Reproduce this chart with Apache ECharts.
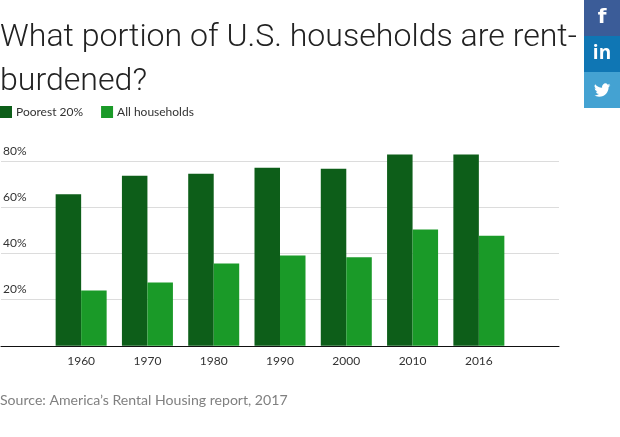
<!DOCTYPE html>
<html><head><meta charset="utf-8">
<style>html,body{margin:0;padding:0;background:#fff}#c{width:620px;height:437px}</style>
<script src="https://cdn.jsdelivr.net/npm/echarts@6/dist/echarts.min.js"></script>
</head><body><div id="c"></div>
<script>
const categories = ['1960','1970','1980','1990','2000','2010','2016'];
const poorest = [65.5,73.5,74.4,77,76.5,82.7,82.7];
const allHouseholds = [23.9,27.4,35.6,39,38.3,50.3,47.6];
const yTicks = [20,40,60,80];
const font = 'Lato, "Open Sans", sans-serif';
echarts.graphic.registerShape('bird', echarts.graphic.extendPath(
  'M24 4.6a10 10 0 0 1-2.8.8 4.900 4.900 0 0 0 2.200-2.700 9.800 9.800 0 0 1-3.100 1.200 4.900 4.900 0 0 0-8.400 4.500A14 14 0 0 1 1.700 3.200a4.900 4.900 0 0 0 1.500 6.600 4.900 4.900 0 0 1-2.200-.6v.1a4.900 4.900 0 0 0 3.900 4.800 4.900 4.900 0 0 1-2.200.1 4.900 4.900 0 0 0 4.600 3.400A9.900 9.900 0 0 1 0 19.600 14 14 0 0 0 7.500 21.800c9 0 14-7.500 14-14v-.6A10 10 0 0 0 24 4.600z', {}));
const chart = echarts.init(document.getElementById('c'));
const H = 231.25, T = 345.75 - H;
chart.setOption({
  animation:false,
  title:[
    {text:'What portion of U.S. households are rent-\nburdened?',left:0,top:16,padding:0,
     textStyle:{fontFamily:'Roboto, Lato, sans-serif',fontWeight:300,fontSize:32.1,lineHeight:44,color:'#222'}},
    {text:'Source: America\u2019s Rental Housing report, 2017',left:0,top:393,padding:0,
     textStyle:{fontFamily:font,fontWeight:400,fontSize:14.1,color:'#808080'}}
  ],
  legend:{left:0,top:106,padding:0,itemWidth:12,itemHeight:12,itemGap:18,icon:'rect',
    textStyle:{fontFamily:font,fontSize:12,color:'#333',padding:[0,0,0,-1]},
    data:['Poorest 20%','All households']},
  grid:[
    {left:0,width:559,top:T,height:H,containLabel:false},
    {left:48,width:464,top:T,height:H,containLabel:false}
  ],
  xAxis:[
    {gridIndex:0,type:'category',data:[''],axisTick:{show:false},axisLabel:{show:false},
     axisLine:{lineStyle:{color:'#111',width:1}}},
    {gridIndex:1,type:'category',data:categories,axisTick:{show:false},
     axisLine:{show:false},z:5,
     axisLabel:{fontFamily:font,fontSize:12,color:'#333',margin:9}}
  ],
  yAxis:[
    {gridIndex:0,type:'value',min:0,max:100,interval:20,axisLine:{show:false},
     axisTick:{show:false,customValues:yTicks},
     axisLabel:{inside:true,customValues:yTicks,margin:2,verticalAlign:'bottom',
       padding:[0,0,4,0],fontFamily:font,fontSize:12,color:'#333',
       formatter:v=>v+'%'},
     splitLine:{show:true,lineStyle:{color:'#dcdcdc',width:1}}},
    {gridIndex:1,type:'value',min:0,max:100,interval:20,show:false,splitLine:{show:false}}
  ],
  series:[
    {name:'Poorest 20%',type:'bar',xAxisIndex:1,yAxisIndex:1,data:poorest,barWidth:25.5,barGap:0,
     itemStyle:{color:'#0d5e19'}},
    {name:'All households',type:'bar',xAxisIndex:1,yAxisIndex:1,data:allHouseholds,barWidth:25.5,barGap:0,
     itemStyle:{color:'#1a9a28'}}
  ],
  graphic:[
    {type:'rect',shape:{x:584,y:0,width:36,height:36},style:{fill:'#3b5c98'}},
    {type:'rect',shape:{x:584,y:36,width:36,height:36},style:{fill:'#0f76b4'}},
    {type:'rect',shape:{x:584,y:72,width:36,height:36},style:{fill:'#44a2d2'}},
    {type:'text',x:602,y:18,style:{text:'f',fill:'#fff',font:'bold 20px "DejaVu Sans"',align:'center',verticalAlign:'middle'}},
    {type:'text',x:602,y:54,style:{text:'in',fill:'#fff',font:'bold 19px "Open Sans"',align:'center',verticalAlign:'middle'}},
    {type:'bird',x:594,y:82,scaleX:.68,scaleY:.68,style:{fill:'#fff'}}
  ]
});
</script></body></html>
